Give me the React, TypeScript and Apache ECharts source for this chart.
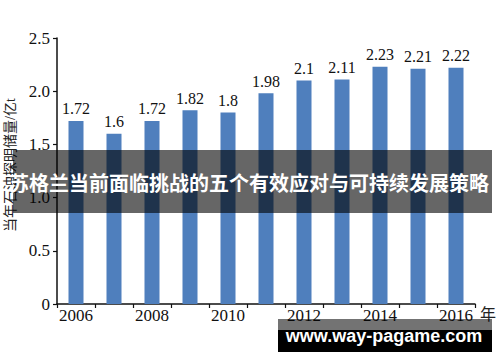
import React, { useEffect, useRef } from "react";
import * as echarts from "echarts";

const years = ["2006", "2007", "2008", "2009", "2010", "2011", "2012", "2013", "2014", "2015", "2016"];
const reserves = [1.72, 1.6, 1.72, 1.82, 1.8, 1.98, 2.1, 2.11, 2.23, 2.21, 2.22];
const yTicks = { min: 0, max: 2.5, interval: 0.5 };
const yAxisTitle = "当年石油探明储量/亿t";
const xAxisTitle = "年";
const bannerText = "苏格兰当前面临挑战的五个有效应对与可持续发展策略";
const watermarkText = "www.way-pagame.com";

const serif = "'Liberation Serif', 'Times New Roman', 'Noto Sans CJK SC', serif";

export default function App() {
  const ref = useRef<HTMLDivElement>(null);
  useEffect(() => {
    if (!ref.current) return;
    const chart = echarts.init(ref.current, null, { renderer: "svg" });
    chart.setOption({
      animation: false,
      backgroundColor: "#ffffff",
      grid: { left: 57, right: 25, top: 38, bottom: 58 },
      xAxis: {
        type: "category",
        data: years,
        axisLine: { lineStyle: { color: "#111", width: 1.5 } },
        axisTick: { show: true, interval: 0, length: 4, lineStyle: { color: "#111", width: 1.2 } },
        axisLabel: {
          interval: 1,
          margin: 3,
          fontFamily: serif,
          fontSize: 17,
          color: "#111",
        },
      },
      yAxis: {
        type: "value",
        min: yTicks.min,
        max: yTicks.max,
        interval: yTicks.interval,
        splitLine: { show: false },
        axisLine: { show: true, lineStyle: { color: "#111", width: 1.5 } },
        axisTick: { show: true, length: 4, lineStyle: { color: "#111", width: 1.2 } },
        axisLabel: {
          margin: 7,
          fontFamily: serif,
          fontSize: 17,
          color: "#111",
          formatter: (v: number) => (v === 0 ? "0" : v.toFixed(1)),
        },
      },
      series: [
        {
          type: "bar",
          data: reserves,
          barWidth: 15,
          itemStyle: { color: "#4f7fbd" },
          label: {
            show: true,
            position: "top",
            distance: 4,
            fontFamily: serif,
            fontSize: 16,
            color: "#111",
            formatter: (p: any) => String(p.value),
          },
        },
      ],
      graphic: [
        {
          type: "text",
          x: 10,
          y: 165,
          rotation: Math.PI / 2,
          z: 50,
          style: {
            text: yAxisTitle,
            fontFamily: serif,
            fontSize: 14,
            fill: "#222",
            textAlign: "center",
            textVerticalAlign: "middle",
          },
        },
        {
          type: "text",
          x: 480,
          y: 314,
          z: 50,
          style: {
            text: xAxisTitle,
            fontFamily: serif,
            fontSize: 16,
            fill: "#222",
            textAlign: "left",
            textVerticalAlign: "middle",
          },
        },
        {
          type: "rect",
          z: 100,
          shape: { x: 13, y: 150, width: 479, height: 63 },
          style: { fill: "rgba(0,0,0,0.6)" },
        },
        {
          type: "text",
          x: 249,
          y: 182,
          z: 101,
          style: {
            text: bannerText,
            fontFamily: "'Noto Sans CJK SC', sans-serif",
            fontWeight: "bold",
            fontSize: 20,
            fill: "#ffffff",
            textAlign: "center",
            textVerticalAlign: "middle",
          },
        },
        {
          type: "rect",
          z: 100,
          shape: { x: 278, y: 319, width: 214, height: 11 },
          style: { fill: "rgba(0,0,0,0.55)" },
        },
        {
          type: "rect",
          z: 100,
          shape: { x: 278, y: 330, width: 214, height: 22 },
          style: { fill: "#000000" },
        },
        {
          type: "text",
          x: 384,
          y: 336,
          z: 101,
          style: {
            text: watermarkText,
            fontFamily: "'Liberation Sans', Arial, sans-serif",
            fontWeight: "bold",
            fontSize: 18,
            fill: "#ffffff",
            textAlign: "center",
            textVerticalAlign: "middle",
          },
        },
      ],
    });
    return () => chart.dispose();
  }, []);
  return <div ref={ref} style={{ width: 500, height: 362, position: "absolute", left: 0, top: 0 }} />;
}
